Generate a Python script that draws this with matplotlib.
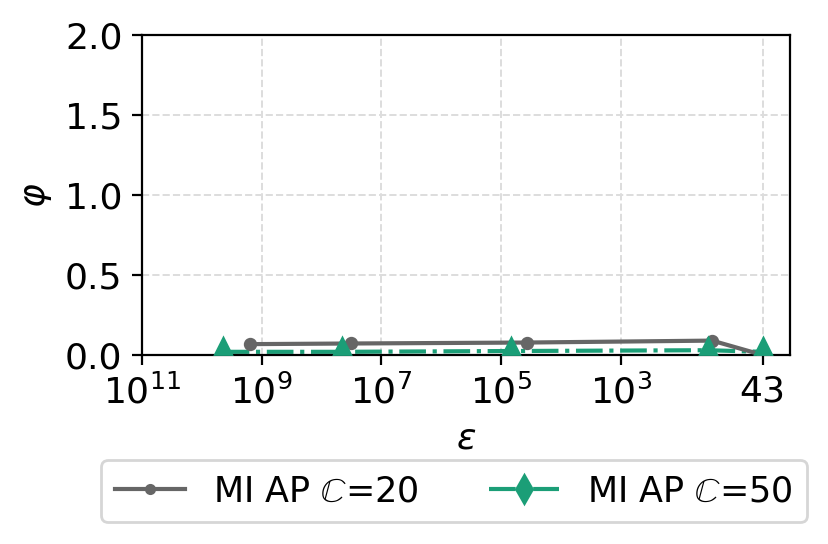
import matplotlib
matplotlib.use("Agg")
import matplotlib.pyplot as plt
from matplotlib.lines import Line2D
from matplotlib.ticker import FixedLocator, FixedFormatter, NullLocator

# data (x is epsilon, log scale, inverted)
eps_20 = [1.6e9, 3.2e7, 3.7e4, 30, 4.3]
phi_20 = [0.068, 0.072, 0.078, 0.09, 0.0]

eps_50_line = [4.5e9, 4.5e7, 6.8e4, 35, 4.3]
phi_50_line = [0.02, 0.02, 0.025, 0.03, 0.02]

eps_50_mark = [4.5e9, 4.5e7, 6.8e4, 35, 4.3]
phi_50_mark = [0.058, 0.058, 0.058, 0.058, 0.058]

xticks = [1e11, 1e9, 1e7, 1e5, 1e3, 4.3]
xticklabels = [r"$10^{11}$", r"$10^{9}$", r"$10^{7}$", r"$10^{5}$", r"$10^{3}$", "43"]

gray = "#666666"
green = "#1b9e77"
fs = 13

fig = plt.figure(figsize=(8.29 / 2, 5.44 / 2), dpi=200)
ax = fig.add_axes([0.1713, 0.3474, 0.953 - 0.1713, 0.9357 - 0.3474])

ax.plot(eps_20, phi_20, color=gray, lw=1.5, marker="o", ms=3.8, zorder=3)
ax.plot(eps_50_line, phi_50_line, color=green, lw=1.5, ls="-.", zorder=2)
ax.plot(eps_50_mark, phi_50_mark, color=green, ls="none", marker="^", ms=6, zorder=4)

ax.set_xscale("log")
ax.set_xlim(1e11, 1.5)
ax.set_ylim(0, 2)
ax.xaxis.set_major_locator(FixedLocator(xticks))
ax.xaxis.set_major_formatter(FixedFormatter(xticklabels))
ax.xaxis.set_minor_locator(NullLocator())
ax.set_yticks([0, 0.5, 1.0, 1.5, 2.0])
ax.tick_params(labelsize=fs)
ax.grid(True, ls="--", color="#dddddd", lw=0.7)
ax.set_axisbelow(True)

ax.set_xlabel(r"$\varepsilon$", fontsize=fs)
ax.set_ylabel(r"$\varphi$", fontsize=fs)

handles = [
    Line2D([], [], color=gray, lw=1.5, marker=".", ms=6),
    Line2D([], [], color=green, lw=1.5, ls="-.", marker="d", ms=7),
]
labels = [r"MI AP $\mathbb{C}$=20", r"MI AP $\mathbb{C}$=50"]
fig.legend(handles, labels, ncol=2, fontsize=12.6, loc="lower center",
           bbox_to_anchor=(0.548, 0.040), borderaxespad=0,
           handlelength=2.0, columnspacing=2.0)

fig.savefig("out.png", dpi=200)
